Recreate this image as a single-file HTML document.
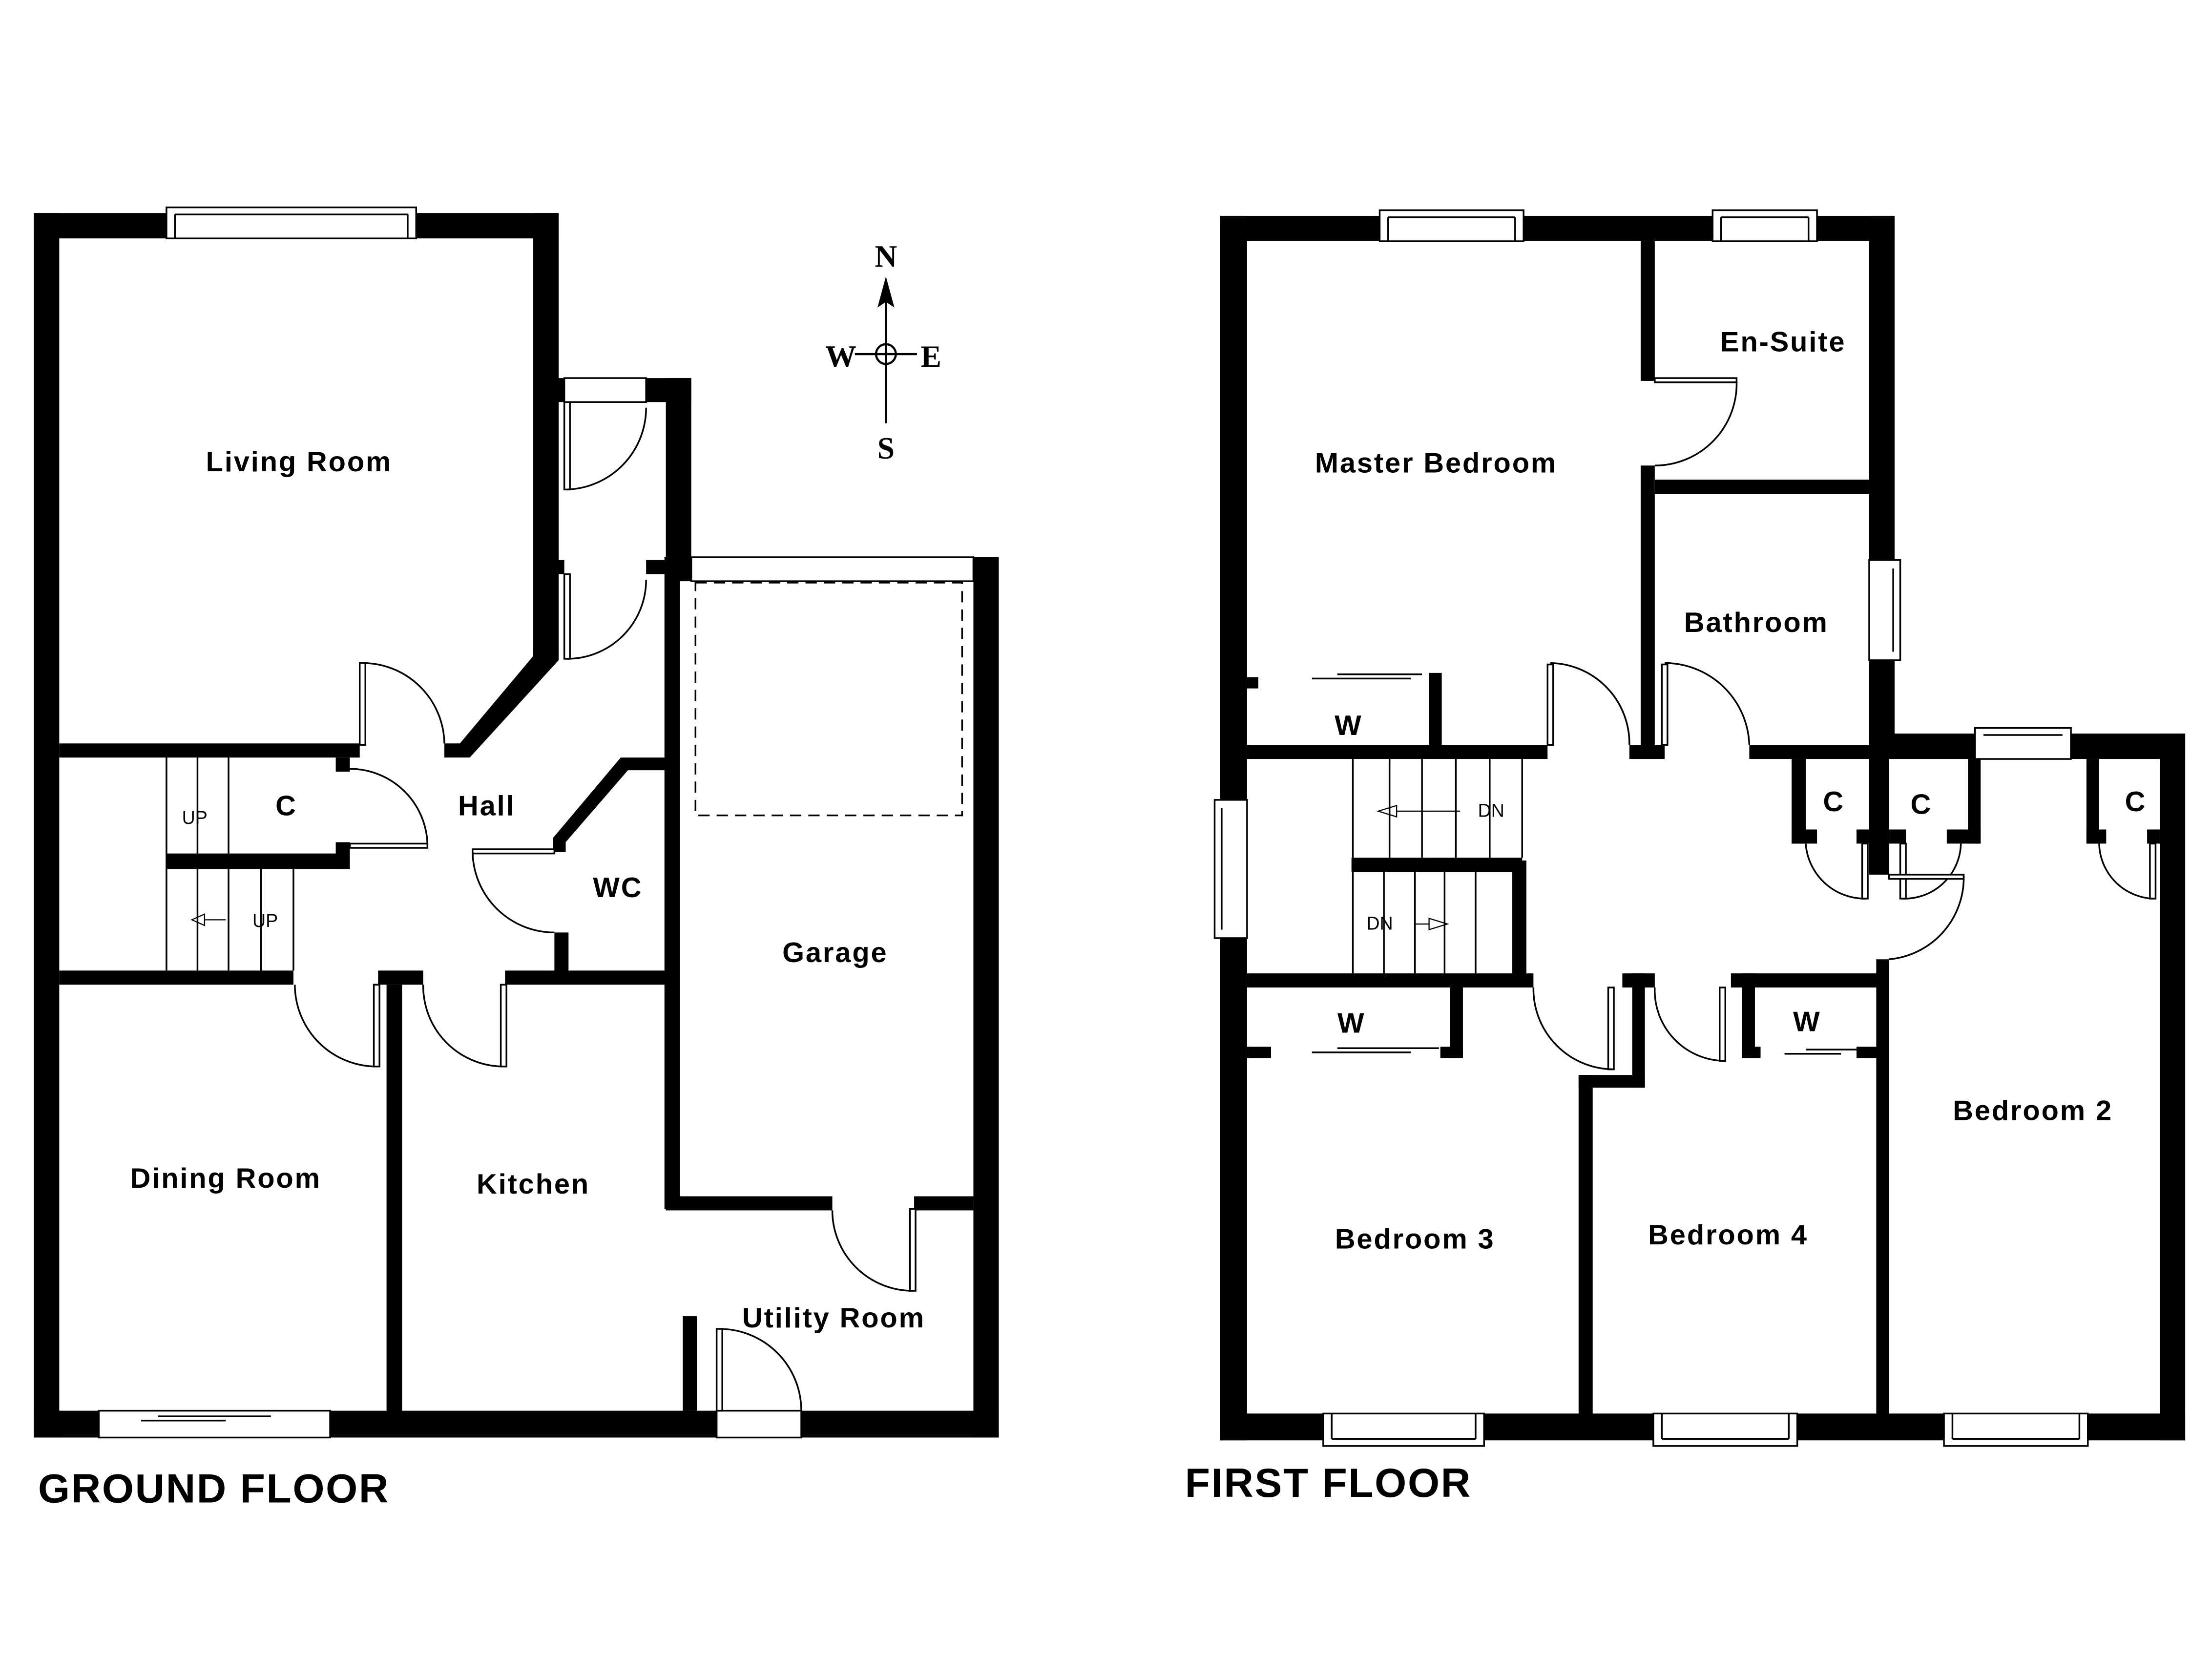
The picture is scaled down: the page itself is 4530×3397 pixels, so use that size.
<!DOCTYPE html>
<html><head><meta charset="utf-8"><style>
html,body{margin:0;padding:0;background:#fff;}
svg{display:block;}
text{font-family:"Liberation Sans",Arial,sans-serif;font-weight:bold;fill:#000;}
.s{font-family:"Liberation Serif",serif;}
.l text{letter-spacing:1px;}
</style></head><body>
<svg width="4530" height="3397" viewBox="0 0 1568 1176" preserveAspectRatio="none" xmlns="http://www.w3.org/2000/svg">
<rect width="1568" height="1176" fill="#fff"/>
<g fill="#000">
<rect x="24" y="151" width="372" height="18"/>
<rect x="24" y="151" width="18" height="868"/>
<rect x="378" y="151" width="18" height="314"/>
<polygon points="378,462 396,462 396,468 333,537 315,537 315,527 326,527 378,465"/>
<rect x="42" y="527" width="213" height="10"/>
<rect x="386" y="268" width="14" height="17"/>
<rect x="458" y="268" width="32" height="17"/>
<rect x="472" y="268" width="18" height="144"/>
<rect x="386" y="285" width="10" height="120"/>
<rect x="386" y="397" width="14" height="10"/>
<rect x="458" y="397" width="14" height="10"/>
<rect x="471" y="395" width="11" height="462"/>
<rect x="440" y="537" width="32" height="9"/>
<polygon points="440,537 446,545 401,597 401,604 392,604 392,594"/>
<rect x="393" y="661" width="10" height="29"/>
<rect x="42" y="688" width="166" height="10"/>
<rect x="268" y="688" width="32" height="10"/>
<rect x="358" y="688" width="114" height="10"/>
<rect x="274" y="698" width="11" height="304"/>
<rect x="118" y="605" width="130" height="11"/>
<rect x="238" y="537" width="10" height="10"/>
<rect x="238" y="597" width="10" height="19"/>
<rect x="690" y="395" width="18" height="624"/>
<rect x="472" y="848" width="118" height="10"/>
<rect x="648" y="848" width="42" height="10"/>
<rect x="484" y="933" width="10" height="67"/>
<rect x="24" y="1000" width="46" height="19"/>
<rect x="234" y="1000" width="274" height="19"/>
<rect x="568" y="1000" width="140" height="19"/>
<rect x="865" y="153" width="478" height="18"/>
<rect x="865" y="153" width="19" height="868"/>
<rect x="1325" y="153" width="18" height="385"/>
<rect x="1325" y="520" width="224" height="18"/>
<rect x="1531" y="520" width="18" height="501"/>
<rect x="865" y="1002" width="684" height="19"/>
<rect x="1163" y="171" width="10" height="99"/>
<rect x="1163" y="330" width="10" height="208"/>
<rect x="1173" y="340" width="152" height="10"/>
<rect x="884" y="528" width="213" height="10"/>
<rect x="1155" y="528" width="25" height="10"/>
<rect x="1240" y="528" width="85" height="10"/>
<rect x="1013" y="477" width="9" height="55"/>
<rect x="884" y="480" width="8" height="8"/>
<rect x="958" y="608" width="121" height="10"/>
<rect x="1072" y="610" width="10" height="84"/>
<rect x="884" y="690" width="203" height="10"/>
<rect x="1028" y="700" width="9" height="50"/>
<rect x="1021" y="742" width="16" height="8"/>
<rect x="884" y="742" width="17" height="8"/>
<rect x="1150" y="690" width="23" height="10"/>
<rect x="1157" y="690" width="9" height="81"/>
<rect x="1119" y="762" width="47" height="9"/>
<rect x="1119" y="762" width="10" height="244"/>
<rect x="1227" y="690" width="104" height="10"/>
<rect x="1235" y="690" width="9" height="60"/>
<rect x="1235" y="742" width="13" height="8"/>
<rect x="1316" y="742" width="15" height="8"/>
<rect x="1330" y="680" width="9" height="326"/>
<rect x="1325" y="529" width="14" height="91"/>
<rect x="1270" y="538" width="10" height="60"/>
<rect x="1270" y="588" width="18" height="10"/>
<rect x="1316" y="588" width="9" height="10"/>
<rect x="1339" y="588" width="12" height="10"/>
<rect x="1395" y="538" width="9" height="60"/>
<rect x="1380" y="588" width="24" height="10"/>
<rect x="1479" y="538" width="9" height="60"/>
<rect x="1479" y="588" width="14" height="10"/>
<rect x="1522" y="588" width="9" height="10"/>
</g>
<g fill="#fff" stroke="#000" stroke-width="1.2">
<rect x="400" y="268" width="58" height="17"/>
<rect x="118" y="147" width="177" height="22"/><line x1="124" y1="152" x2="289" y2="152"/><line x1="124" y1="152" x2="124" y2="169"/><line x1="289" y1="152" x2="289" y2="169"/>
<rect x="490" y="395" width="200" height="17"/>
<rect x="978" y="149" width="102" height="22"/><line x1="984" y1="154" x2="1074" y2="154"/><line x1="984" y1="154" x2="984" y2="171"/><line x1="1074" y1="154" x2="1074" y2="171"/>
<rect x="1214" y="149" width="74" height="22"/><line x1="1220" y1="154" x2="1282" y2="154"/><line x1="1220" y1="154" x2="1220" y2="171"/><line x1="1282" y1="154" x2="1282" y2="171"/>
<rect x="1325" y="397" width="22" height="71"/><line x1="1342" y1="403" x2="1342" y2="462"/>
<rect x="861" y="567" width="23" height="98"/><line x1="866" y1="573" x2="866" y2="659"/>
<rect x="1400" y="516" width="68" height="22"/><line x1="1406" y1="521" x2="1462" y2="521"/>
<rect x="938" y="1002" width="114" height="23"/><line x1="944" y1="1002" x2="944" y2="1020"/><line x1="1046" y1="1002" x2="1046" y2="1020"/><line x1="944" y1="1020" x2="1046" y2="1020"/>
<rect x="1172" y="1002" width="102" height="23"/><line x1="1178" y1="1002" x2="1178" y2="1020"/><line x1="1268" y1="1002" x2="1268" y2="1020"/><line x1="1178" y1="1020" x2="1268" y2="1020"/>
<rect x="1378" y="1002" width="102" height="23"/><line x1="1384" y1="1002" x2="1384" y2="1020"/><line x1="1474" y1="1002" x2="1474" y2="1020"/><line x1="1384" y1="1020" x2="1474" y2="1020"/>
<rect x="70" y="1000" width="164" height="19"/>
<rect x="508" y="1000" width="60" height="19"/>
</g>
<g fill="none" stroke="#000" stroke-width="1.2">
<line x1="112" y1="1004" x2="192" y2="1004"/><line x1="100" y1="1007" x2="160" y2="1007"/>
<rect x="400" y="285" width="4" height="62" fill="#fff"/><path d="M402,347 A58,58 0 0 0 458,289"/>
<rect x="400" y="407" width="4" height="60" fill="#fff"/><path d="M402,467 A56,56 0 0 0 458,411"/>
<rect x="255" y="470" width="4" height="58" fill="#fff"/><path d="M257,470 A58,58 0 0 1 315,527"/>
<rect x="248" y="598" width="55" height="3" fill="#fff"/><path d="M248,545 A55,55 0 0 1 303,599"/>
<rect x="335" y="602" width="58" height="3" fill="#fff"/><path d="M335,604 A58,58 0 0 0 393,661"/>
<rect x="265" y="698" width="4" height="58" fill="#fff"/><path d="M209,698 A58,58 0 0 0 267,756"/>
<rect x="355" y="698" width="4" height="58" fill="#fff"/><path d="M300,698 A57,57 0 0 0 357,756"/>
<rect x="645" y="857" width="4" height="58" fill="#fff"/><path d="M590,858 A57,57 0 0 0 647,915"/>
<rect x="508" y="942" width="4" height="58" fill="#fff"/><path d="M510,942 A58,58 0 0 1 568,1000"/>
<rect x="493" y="413" width="189" height="165" stroke-dasharray="8,5"/>
<line x1="118" y1="537" x2="118" y2="688"/><line x1="140" y1="537" x2="140" y2="605"/><line x1="162" y1="537" x2="162" y2="605"/>
<line x1="140" y1="616" x2="140" y2="688"/><line x1="162" y1="616" x2="162" y2="688"/><line x1="185" y1="616" x2="185" y2="688"/><line x1="208" y1="616" x2="208" y2="688"/>
<path d="M136,652 L145,648 L145,656 Z M145,652 L160,652" stroke-width="0.8"/>
<rect x="1173" y="268" width="58" height="3" fill="#fff"/><path d="M1231,270 A58,58 0 0 1 1173,330"/>
<rect x="1097" y="471" width="4" height="57" fill="#fff"/><path d="M1099,470 A57,57 0 0 1 1155,528"/>
<rect x="1178" y="471" width="4" height="57" fill="#fff"/><path d="M1180,470 A60,60 0 0 1 1240,528"/>
<rect x="1140" y="700" width="4" height="58" fill="#fff"/><path d="M1087,700 A57,57 0 0 0 1144,758"/>
<rect x="1219" y="700" width="4" height="52" fill="#fff"/><path d="M1173,700 A50,50 0 0 0 1222,752"/>
<rect x="1320" y="598" width="4" height="39" fill="#fff"/><path d="M1280,598 A42,42 0 0 0 1322,637"/>
<rect x="1347" y="598" width="4" height="39" fill="#fff"/><path d="M1349,637 A40,40 0 0 0 1390,598"/>
<rect x="1339" y="620" width="53" height="3" fill="#fff"/><path d="M1392,621 A58,58 0 0 1 1339,680"/>
<rect x="1524" y="598" width="4" height="39" fill="#fff"/><path d="M1488,598 A40,40 0 0 0 1526,637"/>
<line x1="930" y1="481" x2="1000" y2="481"/><line x1="948" y1="478" x2="1008" y2="478"/>
<line x1="930" y1="746" x2="1000" y2="746"/><line x1="948" y1="743" x2="1020" y2="743"/>
<line x1="1265" y1="747" x2="1305" y2="747"/><line x1="1280" y1="744" x2="1316" y2="744"/>
<line x1="959" y1="538" x2="959" y2="690"/><line x1="985" y1="538" x2="985" y2="608"/><line x1="1008" y1="538" x2="1008" y2="608"/><line x1="1032" y1="538" x2="1032" y2="608"/><line x1="1056" y1="538" x2="1056" y2="608"/><line x1="1079" y1="538" x2="1079" y2="608"/>
<line x1="981" y1="618" x2="981" y2="690"/><line x1="1003" y1="618" x2="1003" y2="690"/><line x1="1024" y1="618" x2="1024" y2="690"/><line x1="1046" y1="618" x2="1046" y2="690"/>
<path d="M1035,575 L990,575 M977,575 L990,571 L990,579 Z" stroke-width="0.8"/>
<path d="M1003,655 L1013,655 M1026,655 L1013,651 L1013,659 Z" stroke-width="0.8"/>
<line x1="628" y1="200" x2="628" y2="300" stroke-width="1.5"/>
<line x1="606" y1="251" x2="650" y2="251" stroke-width="1.5"/>
<circle cx="628" cy="251" r="7" stroke-width="1.5"/>
</g>
<polygon points="628,196 622,218 628,214 634,218" fill="#000"/>
<g font-size="20" text-anchor="middle" class="l">
<text x="212" y="334">Living Room</text>
<text x="345" y="578">Hall</text>
<text x="203" y="578">C</text>
<text x="438" y="636">WC</text>
<text x="592" y="682">Garage</text>
<text x="160" y="842">Dining Room</text>
<text x="378" y="846">Kitchen</text>
<text x="591" y="941">Utility Room</text>
<text x="1018" y="335">Master Bedroom</text>
<text x="1264" y="249">En-Suite</text>
<text x="1245" y="448">Bathroom</text>
<text x="956" y="521">W</text>
<text x="1300" y="575">C</text>
<text x="1362" y="577">C</text>
<text x="1514" y="575">C</text>
<text x="958" y="732">W</text>
<text x="1281" y="731">W</text>
<text x="1003" y="885">Bedroom 3</text>
<text x="1225" y="882">Bedroom 4</text>
<text x="1441" y="794">Bedroom 2</text>
</g>
<g font-size="13" text-anchor="middle">
<text x="138" y="584" style="font-weight:normal">UP</text>
<text x="188" y="657" style="font-weight:normal">UP</text>
<text x="1057" y="579" style="font-weight:normal">DN</text>
<text x="978" y="659" style="font-weight:normal">DN</text>
</g>
<text x="27" y="1065" font-size="29" style="letter-spacing:0.9px">GROUND FLOOR</text>
<text x="840" y="1061" font-size="29" style="letter-spacing:0.9px">FIRST FLOOR</text>
<g font-size="22" text-anchor="middle">
<text class="s" x="628" y="189">N</text>
<text class="s" x="596" y="260">W</text>
<text class="s" x="660" y="260">E</text>
<text class="s" x="628" y="325">S</text>
</g>
</svg>
</body></html>
